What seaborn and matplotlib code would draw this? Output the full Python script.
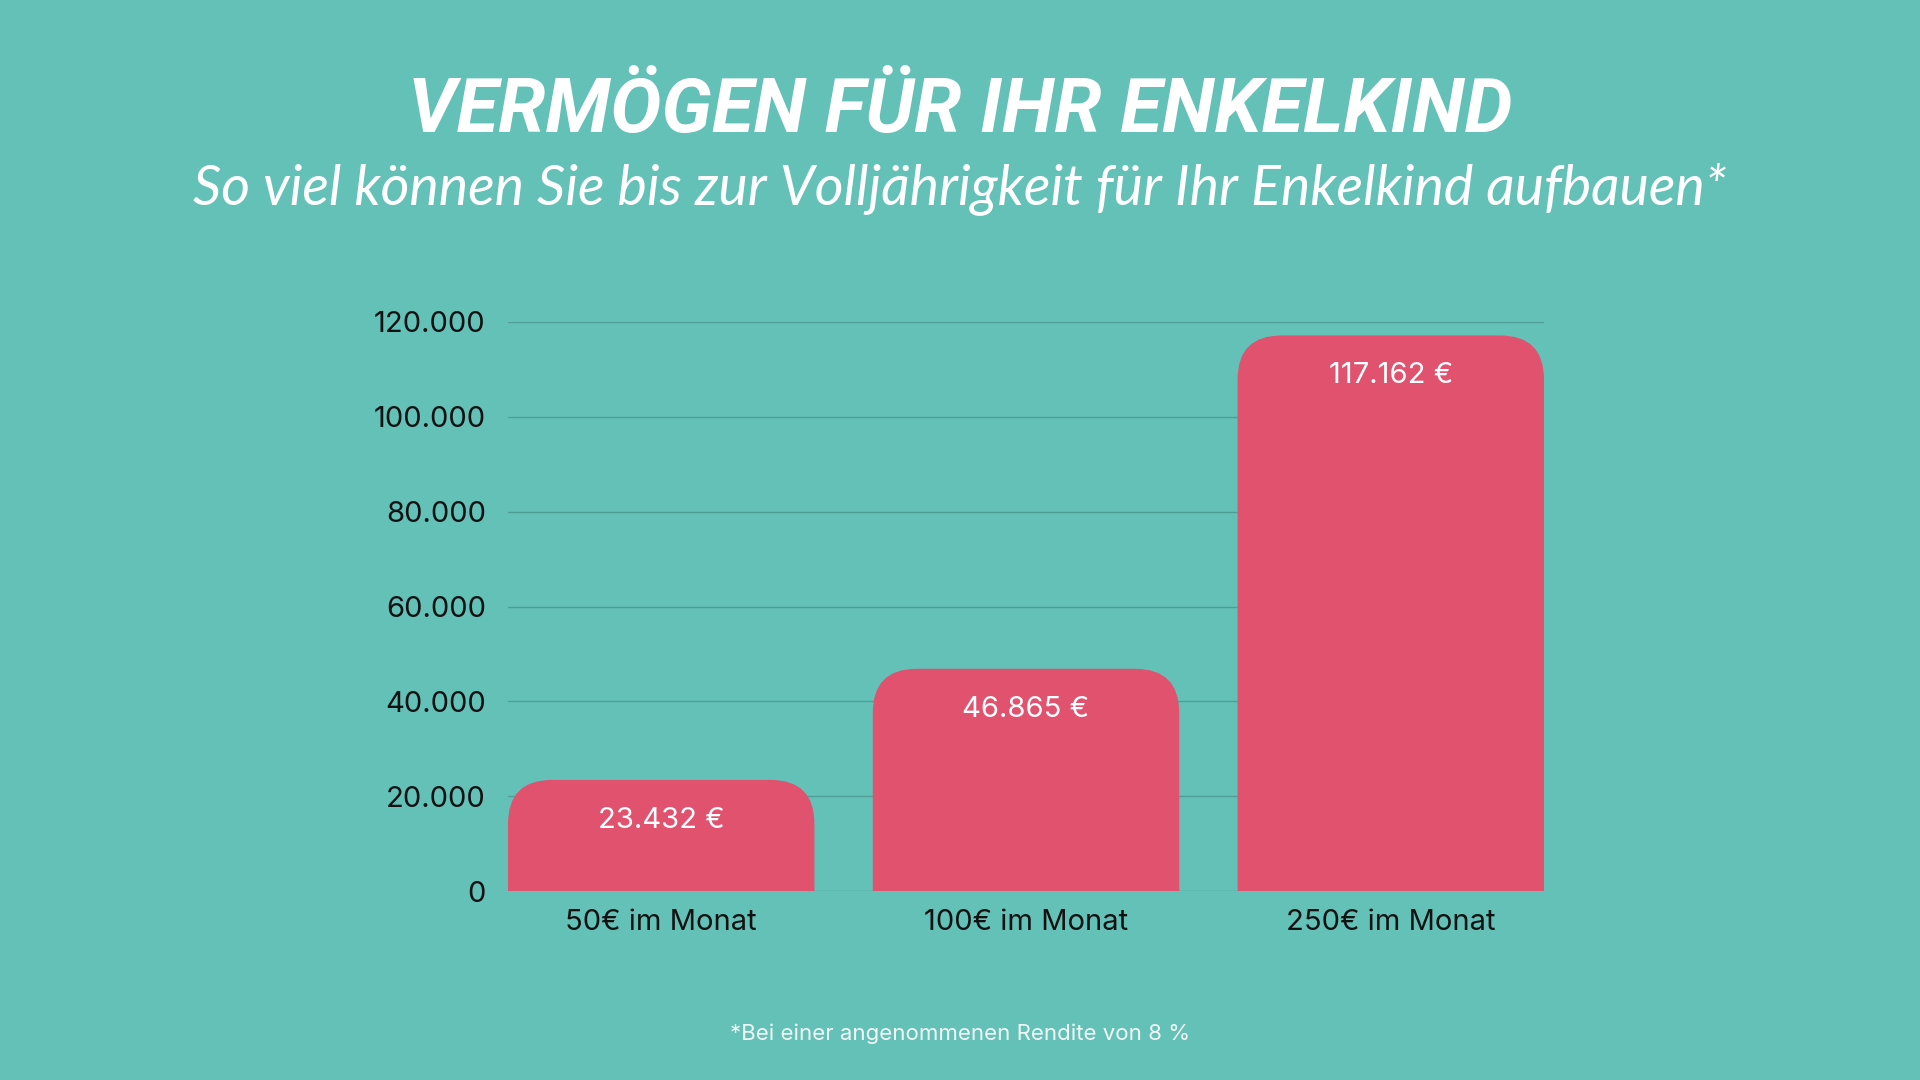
import matplotlib
matplotlib.use("Agg")
import matplotlib.pyplot as plt
import seaborn as sns
from matplotlib import font_manager
from matplotlib.patches import FancyBboxPatch

# Daten
kategorien = ["50€ im Monat", "100€ im Monat", "250€ im Monat"]
vermoegen = [23432, 46865, 117162]
bar_labels = ["23.432 €", "46.865 €", "117.162 €"]
y_ticks = [0, 20000, 40000, 60000, 80000, 100000, 120000]
y_tick_labels = ["0", "20.000", "40.000", "60.000", "80.000", "100.000", "120.000"]

BG = "#64C1B8"
BAR = "#E0526E"
GRID = "#4E9E97"

installed = {f.name for f in font_manager.fontManager.ttflist}


def pick(*names):
    for n in names:
        if n in installed:
            return n
    return "DejaVu Sans"


title_font = pick("Liberation Sans Narrow", "Roboto", "DejaVu Sans")
body_font = pick("Inter", "Lato", "Roboto", "DejaVu Sans")
sub_font = pick("Lato", "Open Sans", "Roboto", "DejaVu Sans")

sns.set_theme(style="white")
plt.rcParams["font.family"] = [body_font, "DejaVu Sans"]

fig = plt.figure(figsize=(19.2, 10.8), dpi=100, facecolor=BG)
ax = fig.add_axes([508 / 1920, 1 - 891 / 1080, 1036 / 1920, 569 / 1080])
ax.set_facecolor(BG)

sns.barplot(x=kategorien, y=vermoegen, color=BAR, width=0.84, saturation=1, ax=ax, zorder=3)

ax.set_xlim(-0.42, 2.42)
ax.set_ylim(0, 120000)

# Balken durch abgerundete Versionen ersetzen
radius_px = 44
px_per_x = 1036 / 2.84
px_per_y = 569 / 120000
rx = radius_px / px_per_x
ry = radius_px / px_per_y
for p in list(ax.patches):
    x0, w, h = p.get_x(), p.get_width(), p.get_height()
    p.remove()
    rp = FancyBboxPatch((x0, -ry * 2), w, h + ry * 2,
                        boxstyle=f"round,pad=0,rounding_size={rx}",
                        mutation_aspect=ry / rx,
                        facecolor=BAR, edgecolor="none", zorder=3)
    ax.add_patch(rp)

for i, (v, lab) in enumerate(zip(vermoegen, bar_labels)):
    ax.annotate(lab, (i, v), xytext=(0, -29), textcoords="offset points",
                ha="center", va="center", color="white", fontsize=21, zorder=4)

ax.set_yticks(y_ticks)
ax.set_yticklabels(y_tick_labels)
ax.grid(axis="y", color=GRID, linewidth=1.0, zorder=1)
ax.grid(axis="x", visible=False)
for s in ax.spines.values():
    s.set_visible(False)
ax.tick_params(axis="y", length=0, pad=16, labelsize=21, labelcolor="#111111")
ax.tick_params(axis="x", length=0, pad=13, labelsize=21, labelcolor="#111111")
ax.set_xlabel("")
ax.set_ylabel("")

fig.text(0.5, 1 - 132 / 1080, "VERMÖGEN FÜR IHR ENKELKIND", ha="center", va="baseline",
         color="white", fontsize=55, fontweight="bold", style="italic",
         family=[title_font, "DejaVu Sans"])
fig.text(0.5, 1 - 204 / 1080,
         "So viel können Sie bis zur Volljährigkeit für Ihr Enkelkind aufbauen*",
         ha="center", va="baseline", color="white", fontsize=40, style="italic",
         family=[sub_font, "DejaVu Sans"])
fig.text(0.5, 1 - 1040 / 1080, "*Bei einer angenommenen Rendite von 8 %",
         ha="center", va="baseline", color="#F2F7F6", fontsize=16)

fig.savefig("out.png", dpi=100, facecolor=BG)
